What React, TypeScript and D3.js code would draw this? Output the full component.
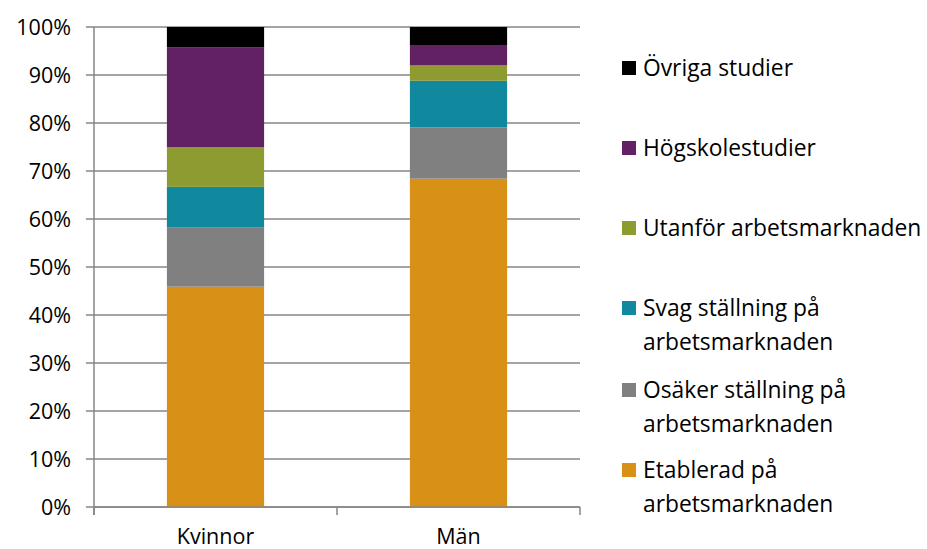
import React from "react";
import * as d3 from "d3";

const categories = ["Kvinnor", "Män"];
const seriesNames = [
  "Etablerad på arbetsmarknaden",
  "Osäker ställning på arbetsmarknaden",
  "Svag ställning på arbetsmarknaden",
  "Utanför arbetsmarknaden",
  "Högskolestudier",
  "Övriga studier",
];
const kvinnorValues = [45.9, 12.4, 8.4, 8.3, 20.8, 4.2];
const manValues = [68.4, 10.7, 9.7, 3.2, 4.25, 3.75];
const seriesColors = ["#D89016", "#808080", "#10889E", "#8D9B30", "#622163", "#000000"];
const yTicks = [0, 10, 20, 30, 40, 50, 60, 70, 80, 90, 100];
const legendLines: string[][] = [
  ["Övriga studier"],
  ["Högskolestudier"],
  ["Utanför arbetsmarknaden"],
  ["Svag ställning på", "arbetsmarknaden"],
  ["Osäker ställning på", "arbetsmarknaden"],
  ["Etablerad på", "arbetsmarknaden"],
];
const legendKeys = [5, 4, 3, 2, 1, 0];
const legendY = [68, 148, 228, 308, 390, 470];

export default function App() {
  const W = 927, H = 549;
  const left = 94, right = 580, top = 27, bottom = 507;
  const font = "'Open Sans', sans-serif";
  const x = d3.scaleBand<string>().domain(categories).range([left, right]).paddingInner(0).paddingOuter(0);
  const y = d3.scaleLinear().domain([0, 100]).range([bottom, top]);
  const values = [kvinnorValues, manValues];
  const barW = x.bandwidth() * 0.4;

  return (
    <svg width={W} height={H} style={{ position: "absolute", left: 0, top: 0, background: "#fff" }}>
      {yTicks.map((t) => (
        <g key={t}>
          <line x1={left - 8} x2={right} y1={y(t)} y2={y(t)} stroke="#868686" strokeWidth={1.5} />
          <text x={71} y={y(t)} dy="0.36em" textAnchor="end" fontFamily={font} fontSize={21.5} fill="#000">
            {t}%
          </text>
        </g>
      ))}
      {categories.map((c, ci) => {
        const stack = d3.cumsum(values[ci]);
        return (
          <g key={c}>
            {values[ci].map((v, si) => {
              const y0 = si === 0 ? 0 : stack[si - 1];
              const y1 = stack[si];
              return (
                <rect
                  key={si}
                  x={(x(c) as number) + (x.bandwidth() - barW) / 2}
                  width={barW}
                  y={y(y1)}
                  height={y(y0) - y(y1)}
                  fill={seriesColors[si]}
                />
              );
            })}
            <text x={(x(c) as number) + x.bandwidth() / 2} y={544} textAnchor="middle" fontFamily={font} fontSize={21.5}>
              {c}
            </text>
          </g>
        );
      })}
      <line x1={left} x2={left} y1={top} y2={bottom + 8} stroke="#868686" strokeWidth={1.5} />
      <line x1={left} x2={right} y1={bottom} y2={bottom} stroke="#868686" strokeWidth={1.5} />
      {[left, (left + right) / 2, right].map((tx, i) => (
        <line key={i} x1={tx} x2={tx} y1={bottom} y2={bottom + 8} stroke="#868686" strokeWidth={1.5} />
      ))}
      {legendKeys.map((k, i) => (
        <g key={k}>
          <rect x={622} y={legendY[i] - 7} width={14} height={14} fill={seriesColors[k]} />
          {legendLines[i].map((line, li) => (
            <text key={li} x={643} y={legendY[i] + li * 34} dy="0.36em" fontFamily={font} fontSize={22.8}>
              {line}
            </text>
          ))}
        </g>
      ))}
    </svg>
  );
}
